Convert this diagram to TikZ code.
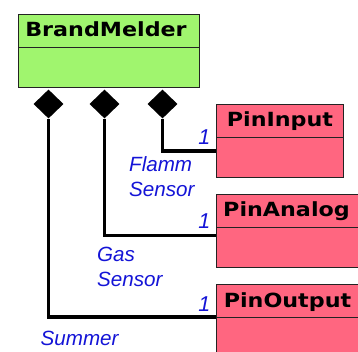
\documentclass[tikz,border=0pt]{standalone}
\usepackage{fontspec}
\usetikzlibrary{shapes.geometric}
\newfontfamily\classfont{DejaVu Sans Bold}[FakeStretch=1.14]
\newfontfamily\rolefont{Liberation Sans Italic}
\definecolor{classgreen}{RGB}{160,245,110}
\definecolor{classpink}{RGB}{255,102,128}
\definecolor{roleblue}{RGB}{20,20,215}
\definecolor{edgegray}{RGB}{35,35,35}
\tikzset{
  header/.style={draw=edgegray, line width=1.4pt, anchor=north west, inner sep=0pt,
    minimum height=33pt},
  body/.style={draw=edgegray, line width=1.4pt, anchor=north west, inner sep=0pt,
    minimum height=40pt},
  classname/.style={anchor=base, inner sep=0pt, font=\classfont\fontsize{19.5pt}{19.5pt}\selectfont},
  role/.style={anchor=base west, inner sep=0pt, align=left, text=roleblue,
    font=\rolefont\fontsize{20.6pt}{24.5pt}\selectfont},
  mult/.style={anchor=base east, inner sep=0pt, text=roleblue,
    font=\rolefont\fontsize{21.5pt}{21.5pt}\selectfont},
  comp/.style={diamond, fill=black, inner sep=0pt, minimum width=30pt, minimum height=29pt},
  conn/.style={draw=black, line width=3.8pt},
}
\begin{document}
\begin{tikzpicture}[x=1pt,y=-1pt]
  \clip (0,0) rectangle (358,352);
  \fill[white] (0,0) rectangle (358,352);

  % BrandMelder class
  \node[header, fill=classgreen, minimum width=181pt] (bm) at (18,14) {};
  \node[body, fill=classgreen, minimum width=181pt] (bmBody) at (18,47) {};
  \node[classname] (bmName) at (106,36.8) {BrandMelder};

  % PinInput class
  \node[header, fill=classpink, minimum width=127pt] (pin) at (216,104) {};
  \node[body, fill=classpink, minimum width=127pt] (pinBody) at (216,137) {};
  \node[classname] (pinName) at (280,126.8) {PinInput};

  % PinAnalog class
  \node[header, fill=classpink, minimum width=146pt] (pan) at (216,194) {};
  \node[body, fill=classpink, minimum width=146pt] (panBody) at (216,227) {};
  \node[classname] (panName) at (286.5,216.8) {PinAnalog};

  % PinOutput class
  \node[header, fill=classpink, minimum width=148pt] (pout) at (216,284) {};
  \node[body, fill=classpink, minimum width=148pt] (poutBody) at (216,317) {};
  \node[classname] (poutName) at (287.5,307) {PinOutput};

  % composition diamonds under BrandMelder
  \node[comp] (dSummer) at (48.5,104) {};
  \node[comp] (dGas) at (104.5,104) {};
  \node[comp] (dFlamm) at (162.5,104) {};

  % connector ends on the part classes
  \coordinate (toPin) at (216,151);
  \coordinate (toPan) at (216,235.5);
  \coordinate (toPout) at (216,317);

  \draw[conn] (dFlamm.south) |- (toPin);
  \draw[conn] (dGas.south) |- (toPan);
  \draw[conn] (dSummer.south) |- (toPout);

  % multiplicities
  \node[mult] (mPin) at (210.5,145) {1};
  \node[mult] (mPan) at (210.5,229) {1};
  \node[mult] (mPout) at (210.5,311) {1};

  % role names (anchored on the baseline of the last line)
  \node[role] (rFlamm) at (129,196.5) {Flamm\\Sensor};
  \node[role] (rGas) at (97,286) {Gas\\Sensor};
  \node[role] (rSummer) at (40.5,345) {Summer};
\end{tikzpicture}
\end{document}
